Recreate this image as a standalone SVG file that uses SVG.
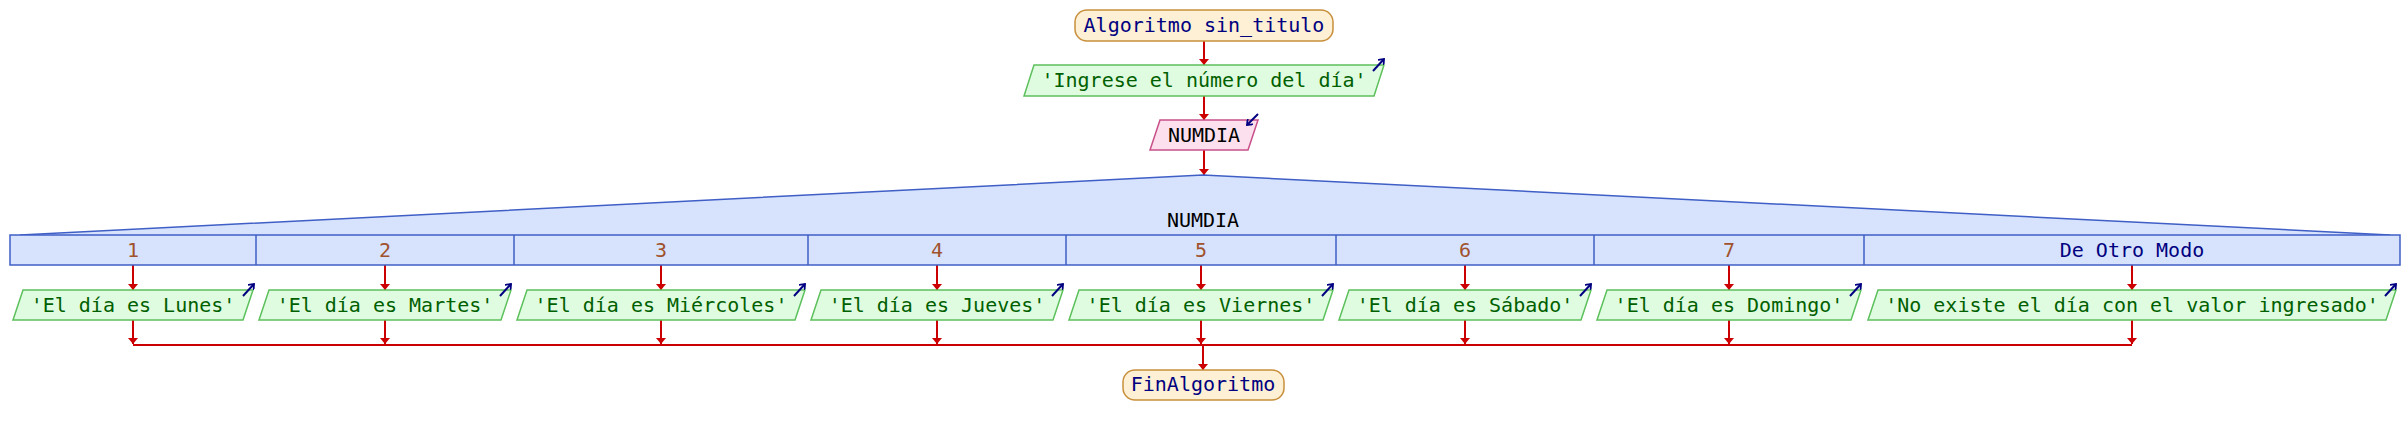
<svg xmlns="http://www.w3.org/2000/svg" width="2408" height="435" viewBox="0 0 2408 435">
<style>
text{font-family:"DejaVu Sans Mono","Liberation Mono",monospace;font-size:20px;text-anchor:middle}
.term{fill:#fdf0d4;stroke:#c8903c;stroke-width:1.5}
.tt{fill:#000080}
.io{fill:#e0fce0;stroke:#5cc05c;stroke-width:1.5}
.it{fill:#006000}
.inp{fill:#fce0ee;stroke:#c8508a;stroke-width:1.5}
.bar{fill:#d7e3fc;stroke:#3f5fc6;stroke-width:1.5}
.lbl{fill:#a0522d}
.flow{stroke:#cc0000;stroke-width:2;fill:none}
.fa{stroke:#cc0000;stroke-width:2;fill:none;marker-end:url(#ah)}
.icon{stroke:#000080;stroke-width:2;fill:none;marker-end:url(#ih)}
</style>
<defs>
<marker id="ah" viewBox="0 0 6 10" refX="6" refY="5" markerWidth="6" markerHeight="10" markerUnits="userSpaceOnUse" orient="auto"><path d="M0,0 L6,5 L0,10 z" fill="#cc0000"/></marker>
<marker id="ih" viewBox="0 0 6 8" refX="5" refY="4" markerWidth="6" markerHeight="8" markerUnits="userSpaceOnUse" orient="auto"><path d="M0,0 L5,4 L0,8" fill="none" stroke="#000080" stroke-width="1.8"/></marker>
</defs>
<g id="connectors">
<line class="fa" x1="1204" y1="41" x2="1204" y2="65"/>
<line class="fa" x1="1204" y1="96" x2="1204" y2="120"/>
<line class="fa" x1="1204" y1="150" x2="1204" y2="175"/>
<line class="fa" x1="133" y1="265" x2="133" y2="290"/>
<line class="fa" x1="385" y1="265" x2="385" y2="290"/>
<line class="fa" x1="661" y1="265" x2="661" y2="290"/>
<line class="fa" x1="937" y1="265" x2="937" y2="290"/>
<line class="fa" x1="1201" y1="265" x2="1201" y2="290"/>
<line class="fa" x1="1465" y1="265" x2="1465" y2="290"/>
<line class="fa" x1="1729" y1="265" x2="1729" y2="290"/>
<line class="fa" x1="2132" y1="265" x2="2132" y2="290"/>
<line class="fa" x1="133" y1="320" x2="133" y2="344"/>
<line class="fa" x1="385" y1="320" x2="385" y2="344"/>
<line class="fa" x1="661" y1="320" x2="661" y2="344"/>
<line class="fa" x1="937" y1="320" x2="937" y2="344"/>
<line class="fa" x1="1201" y1="320" x2="1201" y2="344"/>
<line class="fa" x1="1465" y1="320" x2="1465" y2="344"/>
<line class="fa" x1="1729" y1="320" x2="1729" y2="344"/>
<line class="fa" x1="2132" y1="320" x2="2132" y2="344"/>
<line class="flow" x1="133" y1="345" x2="2132" y2="345"/>
<line class="fa" x1="1203" y1="345" x2="1203" y2="370"/>
</g>
<g id="start">
<rect class="term" x="1075" y="10" width="258" height="31" rx="12"/>
<text class="tt" x="1204" y="32">Algoritmo sin_titulo</text>
</g>
<g id="input-msg">
<polygon class="io" points="1034,65 1384,65 1374,96 1024,96"/>
<text class="it" x="1204" y="87">'Ingrese el número del día'</text>
<line class="icon" x1="1373" y1="71" x2="1384" y2="59"/>
</g>
<g id="read-numdia">
<polygon class="inp" points="1160,120 1258,120 1248,150 1150,150"/>
<text x="1204" y="142" fill="#000">NUMDIA</text>
<line class="icon" x1="1258" y1="114" x2="1247" y2="125"/>
</g>
<g id="switch">
<polygon points="20,235 1203,175 2390,235" fill="#d7e3fc"/>
<polyline points="20,235 1203,175 2390,235" fill="none" stroke="#3f5fc6" stroke-width="1.5"/>
<rect class="bar" x="10" y="235" width="2390" height="30"/>
<g stroke="#3f5fc6" stroke-width="1.5">
<line x1="256" y1="235" x2="256" y2="265"/>
<line x1="514" y1="235" x2="514" y2="265"/>
<line x1="808" y1="235" x2="808" y2="265"/>
<line x1="1066" y1="235" x2="1066" y2="265"/>
<line x1="1336" y1="235" x2="1336" y2="265"/>
<line x1="1594" y1="235" x2="1594" y2="265"/>
<line x1="1864" y1="235" x2="1864" y2="265"/>
</g>
<text x="1203" y="227" fill="#000">NUMDIA</text>
<text class="lbl" x="133" y="257">1</text>
<text class="lbl" x="385" y="257">2</text>
<text class="lbl" x="661" y="257">3</text>
<text class="lbl" x="937" y="257">4</text>
<text class="lbl" x="1201" y="257">5</text>
<text class="lbl" x="1465" y="257">6</text>
<text class="lbl" x="1729" y="257">7</text>
<text class="tt" x="2132" y="257">De Otro Modo</text>
</g>
<g id="out1">
<polygon class="io" points="23,290 253,290 243,320 13,320"/>
<text class="it" x="133" y="312">'El día es Lunes'</text>
<line class="icon" x1="243" y1="296" x2="254" y2="284"/>
</g>
<g id="out2">
<polygon class="io" points="269,290 511,290 501,320 259,320"/>
<text class="it" x="385" y="312">'El día es Martes'</text>
<line class="icon" x1="500" y1="296" x2="511" y2="284"/>
</g>
<g id="out3">
<polygon class="io" points="527,290 805,290 795,320 517,320"/>
<text class="it" x="661" y="312">'El día es Miércoles'</text>
<line class="icon" x1="794" y1="296" x2="805" y2="284"/>
</g>
<g id="out4">
<polygon class="io" points="821,290 1063,290 1053,320 811,320"/>
<text class="it" x="937" y="312">'El día es Jueves'</text>
<line class="icon" x1="1052" y1="296" x2="1063" y2="284"/>
</g>
<g id="out5">
<polygon class="io" points="1079,290 1333,290 1323,320 1069,320"/>
<text class="it" x="1201" y="312">'El día es Viernes'</text>
<line class="icon" x1="1322" y1="296" x2="1333" y2="284"/>
</g>
<g id="out6">
<polygon class="io" points="1349,290 1591,290 1581,320 1339,320"/>
<text class="it" x="1465" y="312">'El día es Sábado'</text>
<line class="icon" x1="1580" y1="296" x2="1591" y2="284"/>
</g>
<g id="out7">
<polygon class="io" points="1607,290 1861,290 1851,320 1597,320"/>
<text class="it" x="1729" y="312">'El día es Domingo'</text>
<line class="icon" x1="1850" y1="296" x2="1861" y2="284"/>
</g>
<g id="out8">
<polygon class="io" points="1878,290 2396,290 2386,320 1868,320"/>
<text class="it" x="2132" y="312">'No existe el día con el valor ingresado'</text>
<line class="icon" x1="2385" y1="296" x2="2396" y2="284"/>
</g>
<g id="end">
<rect class="term" x="1123" y="370" width="161" height="30" rx="12"/>
<text class="tt" x="1203" y="391">FinAlgoritmo</text>
</g>
</svg>
